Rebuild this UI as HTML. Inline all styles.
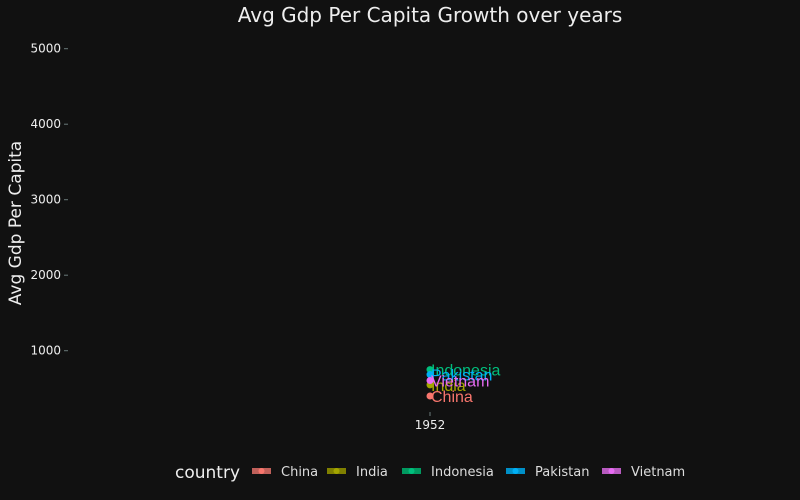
<!DOCTYPE html>
<html><head><meta charset="utf-8">
<style>
html,body{margin:0;padding:0;background:#111111;}
svg{display:block;font-family:"DejaVu Sans","Liberation Sans",sans-serif;}
</style></head>
<body>
<svg id="chart" width="800" height="500" viewBox="0 0 800 500">
  <rect width="800" height="500" fill="#111111"/>
  <text x="430" y="22" fill="#eeeeee" font-size="20" text-anchor="middle">Avg Gdp Per Capita Growth over years</text>
  <text transform="translate(21,223) rotate(-90)" fill="#eeeeee" font-size="17" text-anchor="middle">Avg Gdp Per Capita</text>
  <g id="yaxis"></g>
  <g id="xaxis"></g>
  <g id="marks"></g>
  <g id="legend">
    <text x="175" y="478" fill="#eeeeee" font-size="17">country</text>
  </g>
</svg>
<script>
const years = [1952];
const countries = ["China","India","Indonesia","Pakistan","Vietnam"];
const colors = ["#f8766d","#a3a500","#00bf7d","#00b0f6","#e76bf3"];
const legendColors = ["#c0605a","#808000","#009a60","#0090c8","#b85ac0"];
const gdpChina = [400];
const gdpIndia = [547];
const gdpIndonesia = [750];
const gdpPakistan = [684];
const gdpVietnam = [605];
const yTicks = [1000,2000,3000,4000,5000];
const xTicks = [1952];

const series = [gdpChina,gdpIndia,gdpIndonesia,gdpPakistan,gdpVietnam];
const NS="http://www.w3.org/2000/svg";
function yScale(v){ return 350.7 - (v-1000)*(302/4000); }
function xScale(yr){ return 430 + (yr-1952)*10; }
function mk(tag,attrs,parent){const e=document.createElementNS(NS,tag);for(const k in attrs)e.setAttribute(k,attrs[k]);parent.appendChild(e);return e;}

const ya=document.getElementById('yaxis');
yTicks.forEach(t=>{
  const y=yScale(t);
  const l=mk('line',{x1:64,x2:68,y1:y,y2:y,stroke:'#6a7a7a'},ya);
  
  
  const tx=mk('text',{x:61,y:y+4,fill:'#eeeeee','font-size':12,'text-anchor':'end'},ya);
  tx.textContent=t;
  
  
});
const xa=document.getElementById('xaxis');
xTicks.forEach(t=>{
  const x=xScale(t);
  const l=mk('line',{x1:x,x2:x,y1:412,y2:416,stroke:'#6a7a7a'},xa);
  
  
  const tx=mk('text',{x:x,y:429,fill:'#eeeeee','font-size':12,'text-anchor':'middle'},xa);
  tx.textContent=t;
  
  
});
const mg=document.getElementById('marks');
series.forEach((s,i)=>{
  s.forEach((v,j)=>{
    const x=xScale(years[j]), y=yScale(v);
    const c=mk('circle',{cx:x,cy:y,r:3.5,fill:colors[i]},mg);
    
    
    if(j===s.length-1){
      const t=mk('text',{x:x+1,y:y+6,fill:colors[i],'font-size':16,'font-family':'Liberation Sans, sans-serif'},mg);
      t.textContent=countries[i];
      
      
    }
  });
});
const lg=document.getElementById('legend');
const lx=[252,327,402,506,602];
countries.forEach((c,i)=>{
  const x=lx[i];
  const r=mk('rect',{x:x,y:468,width:19,height:6,fill:legendColors[i]},lg);
  
  
  const d=mk('circle',{cx:x+9.5,cy:471,r:3,fill:colors[i]},lg);
  
  
  const t=mk('text',{x:x+29,y:476,fill:'#dddddd','font-size':13},lg);
  t.textContent=c;
  
  
});
</script>
</body></html>
